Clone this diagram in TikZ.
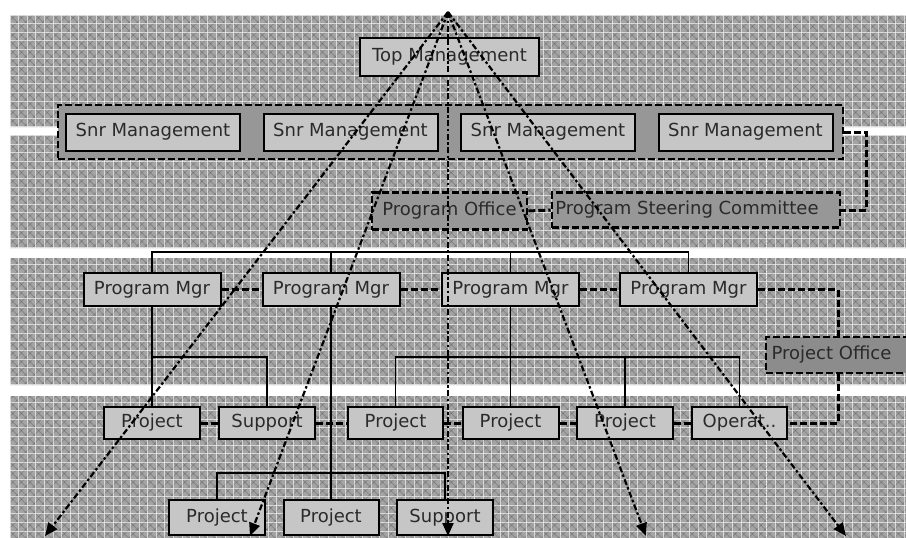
\documentclass[tikz,border=0pt]{standalone}
\usepackage{fontspec}
\setmainfont{DejaVu Sans}
\usetikzlibrary{arrows.meta}
\definecolor{bandgray}{HTML}{A4A4A4}
\definecolor{boxgray}{HTML}{C6C6C6}
\definecolor{groupgray}{HTML}{979797}
\definecolor{officegray}{HTML}{8C8C8C}
\definecolor{textgray}{HTML}{2A2A2A}
\begin{document}
\begin{tikzpicture}[x=1pt,y=-1pt,
  gridline/.style={white, line width=1pt, opacity=0.6},
  hatch/.style={black, line width=0.8pt, opacity=0.18},
  box/.style={draw=black, line width=2pt, fill=boxgray, inner sep=0pt,
    font=\fontsize{18}{20}\selectfont, text=textgray},
  dbox/.style={draw=black, line width=2.6pt, dash pattern=on 7pt off 3pt,
    fill=groupgray, inner sep=0pt, font=\fontsize{18}{20}\selectfont, text=textgray},
  tree/.style={black, line width=1.5pt},
  dlink/.style={black, line width=3pt, dash pattern=on 7pt off 3pt},
  ray/.style={black, line width=2.2pt, dash pattern=on 6pt off 2.5pt on 2.5pt off 2.5pt,
    -{Triangle[length=13pt,width=11pt]}},
]
\useasboundingbox (0,0) rectangle (906,538);

% patterned horizontal bands
\begin{scope}
  \clip (10,15) rectangle (906,127) (10,135) rectangle (906,248)
        (10,258) rectangle (906,385) (10,396) rectangle (906,538);
  \fill[bandgray] (0,0) rectangle (906,538);
  \foreach \k in {-920.2,-911.6,...,560} {
    \draw[hatch] (0,5+\k) -- (906,911+\k);
    \draw[hatch] (0,33.6+\k+900) -- (906,33.6+\k-6);
  }
  \foreach \x in {10,18.6,...,906} \draw[gridline] (\x,0) -- (\x,538);
  \foreach \y in {15,23.6,...,538} \draw[gridline] (0,\y) -- (906,\y);
\end{scope}
\draw[white, dotted, line width=1pt, opacity=0.8] (766,160) -- (766,538);

% named levels
\coordinate (apex) at (448,12);
\coordinate (rj) at (866,0);
\coordinate (busA) at (0,252);
\coordinate (busB) at (0,357);
\coordinate (busC) at (0,473);

% solid reporting lines (drawn first, boxes sit on top)
\path (152,289.5) coordinate (pm1c) (331,289.5) coordinate (pm2c)
      (510.5,289.5) coordinate (pm3c) (688.5,289.5) coordinate (pm4c);

% top levels
\node[box, minimum width=179pt, minimum height=38pt] (top) at (449.5,57) {Top Management};
\node[dbox, minimum width=785pt, minimum height=54pt] (sgroup) at (450.5,132) {};
\node[box, minimum width=174pt, minimum height=37pt] (s1) at (153,132) {Snr Management};
\node[box, minimum width=174pt, minimum height=37pt] (s2) at (350.5,132) {Snr Management};
\node[box, minimum width=174pt, minimum height=37pt] (s3) at (548,132) {Snr Management};
\node[box, minimum width=174pt, minimum height=37pt] (s4) at (745.5,132) {Snr Management};

\node[dbox, minimum width=155pt, minimum height=37pt] (po) at (449.5,211) {Program Office};
\node[dbox, minimum width=288pt, minimum height=35pt] (psc) at (696,210)
  {\hspace*{-18pt}Program Steering Committee};

% program managers
\node[box, minimum width=137pt, minimum height=33pt] (pm1) at (pm1c) {Program Mgr};
\node[box, minimum width=137pt, minimum height=33pt] (pm2) at (pm2c) {Program Mgr};
\node[box, minimum width=137pt, minimum height=33pt] (pm3) at (pm3c) {Program Mgr};
\node[box, minimum width=137pt, minimum height=33pt] (pm4) at (pm4c) {Program Mgr};
\node[dbox, fill=officegray, minimum width=144pt, minimum height=36pt] (pof) at (838,355)
  {\hspace*{-13pt}Project Office};

% projects
\node[box, minimum width=96pt, minimum height=32pt] (p1) at (152,423) {Project};
\node[box, minimum width=96pt, minimum height=32pt] (sup1) at (267,423) {Support};
\node[box, minimum width=95pt, minimum height=32pt] (p3) at (395.5,423) {Project};
\node[box, minimum width=96pt, minimum height=32pt] (p4) at (510.5,423) {Project};
\node[box, minimum width=96pt, minimum height=32pt] (p5) at (625,423) {Project};
\node[box, minimum width=95pt, minimum height=32pt] (op) at (739.5,423) {Operat..};

\node[box, minimum width=96pt, minimum height=35pt] (l1) at (217,517.5) {Project};
\node[box, minimum width=95pt, minimum height=35pt] (l2) at (331,517.5) {Project};
\node[box, minimum width=96pt, minimum height=35pt] (l3) at (445,517.5) {Support};

% solid reporting lines
\draw[tree] (pm1.north) |- (pm4.north |- busA) -- (pm4.north);
\draw[tree] (pm2.north) -- (pm2.north |- busA);
\draw[tree] (pm3.north) -- (pm3.north |- busA);
\draw[tree] (pm1.south) -- (p1.north);
\draw[tree] (pm1.south |- busB) -| (sup1.north);
\draw[tree] (pm2.south) -- (l2.north);
\draw[tree] (l1.north) |- (l3.north |- busC) -- (l3.north);
\draw[tree] (pm3.south) -- (p4.north);
\draw[tree] (p3.north) |- (op.north |- busB) -- (op.north);
\draw[tree] (p5.north) -- (p5.north |- busB);

% dashed coordination links
\draw[dlink] (sgroup.east) -| (rj |- psc.east) -- (psc.east);
\draw[dlink] (po.east) -- (psc.west);
\draw[dlink] (pm1.east) -- (pm2.west);
\draw[dlink] (pm2.east) -- (pm3.west);
\draw[dlink] (pm3.east) -- (pm4.west);
\draw[dlink] (pm4.east) -| (pof.north);
\draw[dlink] (pof.south) |- (op.east);
\draw[dlink] (p1.east) -- (sup1.west);
\draw[dlink] (sup1.east) -- (p3.west);
\draw[dlink] (p3.east) -- (p4.west);
\draw[dlink] (p4.east) -- (p5.west);
\draw[dlink] (p5.east) -- (op.west);

% rays from the top
\coordinate (e1) at (45,536);
\coordinate (e2) at (250,536);
\coordinate (e3) at (448,536);
\coordinate (e4) at (646,536);
\coordinate (e5) at (846,536);
\foreach \e in {e1,e2,e3,e4,e5} \draw[ray] (apex) -- (\e);
\end{tikzpicture}
\end{document}
